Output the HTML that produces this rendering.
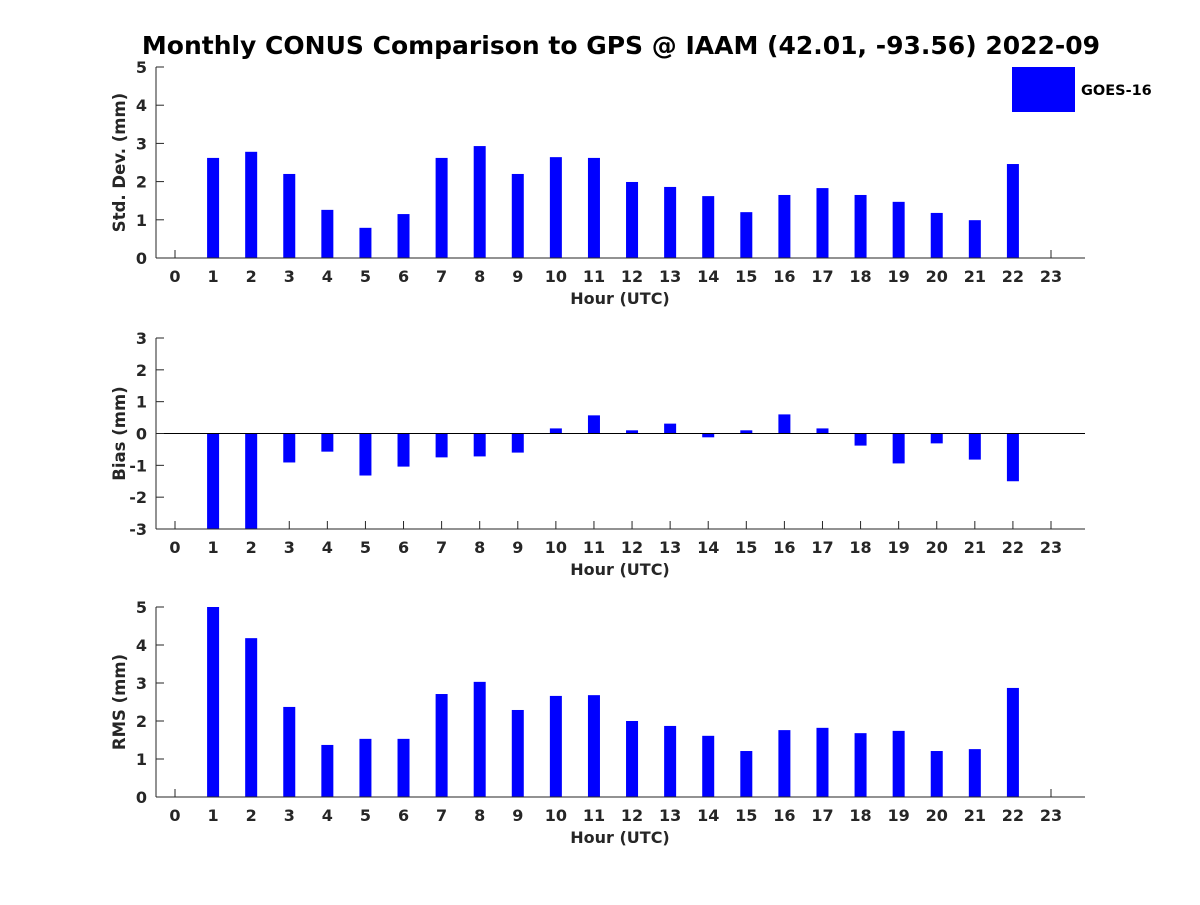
<!DOCTYPE html>
<html><head><meta charset="utf-8"><style>
body{margin:0;background:#fff;}
svg text{font-family:"DejaVu Sans","Liberation Sans",sans-serif;font-weight:bold;fill:#262626;}
</style></head><body>
<svg id="chart" width="1200" height="900" xmlns="http://www.w3.org/2000/svg">
<rect width="1200" height="900" fill="#fff"/>
<text x="621" y="54" font-size="25" text-anchor="middle" style="fill:#000">Monthly CONUS Comparison to GPS @ IAAM (42.01, -93.56) 2022-09</text>
<rect x="1012" y="67" width="63" height="45" fill="#0000ff"/>
<text x="1081" y="95" font-size="14.5" style="fill:#000">GOES-16</text>
<g id="plots"></g>
</svg>
<script>
const hours = [0,1,2,3,4,5,6,7,8,9,10,11,12,13,14,15,16,17,18,19,20,21,22,23];
const stdValues = [0,2.62,2.78,2.2,1.26,0.79,1.15,2.62,2.93,2.2,2.64,2.62,1.99,1.86,1.62,1.2,1.65,1.83,1.65,1.47,1.18,0.99,2.46,0];
const biasValues = [0,-4.26,-3.1,-0.91,-0.57,-1.32,-1.04,-0.75,-0.72,-0.6,0.16,0.57,0.1,0.31,-0.12,0.1,0.6,0.16,-0.38,-0.94,-0.31,-0.82,-1.5,0];
const rmsValues = [0,5.0,4.18,2.37,1.37,1.53,1.53,2.71,3.03,2.29,2.66,2.68,2.0,1.87,1.61,1.21,1.76,1.82,1.68,1.74,1.21,1.26,2.87,0];
const stdTicks = [0,1,2,3,4,5];
const biasTicks = [-3,-2,-1,0,1,2,3];
const rmsTicks = [0,1,2,3,4,5];

const NS="http://www.w3.org/2000/svg";
const g=document.getElementById('plots');
function mk(tag,attrs,parent){const e=document.createElementNS(NS,tag);for(const k in attrs)e.setAttribute(k,attrs[k]);(parent||g).appendChild(e);return e;}
const X0=156,X1=1085;
function xs(h){return 175+h*(1051-175)/23;}

function panel(name,top,bot,ymin,ymax,ticks,vals,ylabel,zeroLine){
  const grp=mk('g',{});
  
  
  const ys=v=>bot-(v-ymin)/(ymax-ymin)*(bot-top);
  const clip=v=>Math.max(ymin,Math.min(ymax,v));
  hours.forEach(h=>{
    mk('line',{x1:xs(h),y1:bot,x2:xs(h),y2:bot-8,stroke:'#262626'},grp);
    const tx=mk('text',{x:xs(h),y:bot+24,'font-size':16,'text-anchor':'middle'},grp);
    tx.textContent=h;
    
    
  });
  hours.forEach((h,i)=>{
    const v=vals[i]; if(v===0) return;
    const y0=ys(clip(0)),y1=ys(clip(v));
    const r=mk('rect',{x:xs(h)-6,y:Math.min(y0,y1),width:12,height:Math.abs(y1-y0),fill:'#0000ff'},grp);
    
    
  });
  const ax=mk('line',{x1:X0,y1:top,x2:X0,y2:bot,stroke:'#262626','stroke-width':1},grp);
  
  
  const bx=mk('line',{x1:X0,y1:bot,x2:X1,y2:bot,stroke:'#262626','stroke-width':1},grp);
  
  
  if(zeroLine){const z=mk('line',{x1:X0,y1:ys(0),x2:X1,y2:ys(0),stroke:'#000','stroke-width':1},grp);
    
    }
  ticks.forEach(t=>{
    mk('line',{x1:X0,y1:ys(t),x2:X0+8,y2:ys(t),stroke:'#262626'},grp);
    const tx=mk('text',{x:X0-9,y:ys(t)+6,'font-size':16,'text-anchor':'end'},grp);
    tx.textContent=t;
    
    
  });
  const xl=mk('text',{x:620,y:bot+46,'font-size':16,'text-anchor':'middle'},grp);
  xl.textContent='Hour (UTC)';
  
  
  const cy=(top+bot)/2;
  const yl=mk('text',{x:125,y:cy,'font-size':16.5,'text-anchor':'middle',transform:'rotate(-90 125 '+cy+')'},grp);
  yl.textContent=ylabel;
  
  
}
panel('std',67,258,0,5,stdTicks,stdValues,'Std. Dev. (mm)',false);
panel('bias',338,529,-3,3,biasTicks,biasValues,'Bias (mm)',true);
panel('rms',607,797,0,5,rmsTicks,rmsValues,'RMS (mm)',false);
</script>
</body></html>
